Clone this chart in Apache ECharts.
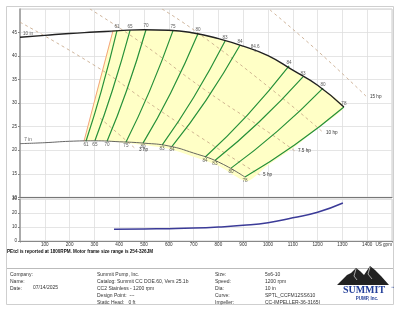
<!DOCTYPE html>
<html><head><meta charset="utf-8">
<script src="https://cdn.jsdelivr.net/npm/echarts@6/dist/echarts.min.js"></script>
<style>html,body{margin:0;padding:0;background:#fff}#c{width:400px;height:309px}</style>
</head><body><div id="c"></div>
<script>
// ---- data ----
const dia10Q = [0,100,200,300,400,500,600,700,800,900,1000,1100,1200,1306];
const dia10H = [44.0,44.4,44.8,45.1,45.4,45.6,45.5,44.9,43.7,42.1,40.1,37.0,33.8,29.2];
const dia7Q = [0,100,200,300,400,500,600,700,800,907];
const dia7H = [21.4,21.6,21.9,22.0,21.8,21.5,20.9,19.4,17.5,14.3];
const effLabels = ['61','65','70','75','80','83','84','84','83','80','78'];
const effQ = [[266,328,391],[302,373,444],[351,430,508],[427,522,617],[496,607,718],[573,700,827],[613,750,887],[746,916,1085],[786,964,1141],[851,1037,1222],[907,1107,1306]];
const effH = [[21.9,32.6,45.4],[22.0,32.8,45.5],[21.9,32.7,45.6],[21.7,32.5,45.4],[21.5,32.1,44.8],[21.1,31.2,43.2],[20.8,30.6,42.3],[18.5,27.4,37.9],[17.8,26.0,35.6],[16.2,24.0,33.2],[14.3,21.1,29.2]];
const bestEffQ = 948, bestEffH = 41.2, bestEffLabel = '84.6';
const minFlowQ = [375,258];
const minFlowH = [45.4,21.9];
// preferred region lower/right edge (below 7 in curve and right of 78 line)
const regionEdgeQ = [1306,1200,1100,1000,915,800,700,600,500,400,300,258];
const regionEdgeH = [29.2,24.6,20.4,16.8,13.4,16.7,18.6,20.3,21.1,21.7,22.0,21.9];
const hpLabels = ['3 hp','5 hp','7.5 hp','10 hp','15 hp'];
const hpQ = [[323,403,468],[0,310,504,726,968],[282,484,746,1008,1109],[573,718,1008,1222],[1008,1202,1399]];
const hpH = [[26.8,23.2,20.2],[47.2,37.7,30.6,22.8,14.7],[50.0,43.0,32.8,23.6,19.8],[50.0,44.9,33.2,23.8],[49.8,41.0,31.3]];
const npshQ = [379,500,600,700,800,900,1000,1100,1200,1302];
const npshH = [8.4,8.6,8.8,9.2,10.0,11.2,13.1,16.6,20.5,27.1];
const xTicks = [0,1500,100];
const headTicks = [10,50,5];
const npshTicks = [0,30,10];

const zip = (a,b)=>a.map((v,i)=>[v,b[i]]);
const chart = echarts.init(document.getElementById('c'), null, {renderer:'canvas'});

function regionPts(){
  const pts = [[minFlowQ[0],minFlowH[0]]];
  dia10Q.forEach((q,i)=>{ if(q>minFlowQ[0] && q<regionEdgeQ[0]) pts.push([q,dia10H[i]]); });
  regionEdgeQ.forEach((q,i)=>pts.push([q,regionEdgeH[i]]));
  pts.push([minFlowQ[1],minFlowH[1]]);
  return pts;
}
const region = regionPts();

const FS = 4.6;
const series = [];
series.push({type:'custom', xAxisIndex:0, yAxisIndex:0, clip:true, silent:true, z:1,
  data:[[0,0]],
  renderItem:(params, api)=>({type:'polygon', shape:{points: region.map(p=>api.coord(p)), smooth:0.2},
     style:{fill:'#ffffc6', stroke:'#ffffc6', lineWidth:0}})
});
hpQ.forEach((qs,i)=>{
  series.push({type:'line', xAxisIndex:0, yAxisIndex:0, smooth:true, symbol:'none', z:2, silent:true,
    data: zip(qs,hpH[i]), lineStyle:{color:'#c4a384', width:0.8, type:[3,3]},
    endLabel:{show:true, formatter:hpLabels[i], fontSize:FS, color:'#333', distance:3}});
});
series.push({type:'line', xAxisIndex:0, yAxisIndex:0, symbol:'none', z:3, data: zip(minFlowQ,minFlowH),
  lineStyle:{color:'#f08a6a', width:0.8}});
effQ.forEach((qs,i)=>{
  series.push({type:'line', xAxisIndex:0, yAxisIndex:0, smooth:true, symbol:'none', z:4,
    data: zip(qs,effH[i]), lineStyle:{color:'#27913a', width:1.2}});
});
series.push({type:'line', xAxisIndex:0, yAxisIndex:0, smooth:true, symbol:'none', z:5,
  data: zip(dia10Q,dia10H), lineStyle:{color:'#222', width:1.4}});
series.push({type:'line', xAxisIndex:0, yAxisIndex:0, smooth:true, symbol:'none', z:5,
  data: zip(dia7Q,dia7H), lineStyle:{color:'#555', width:0.9}});
const topLab = [], botLab = [];
effQ.forEach((qs,i)=>{ botLab.push({value:[qs[0],effH[i][0]], name:effLabels[i]}); topLab.push({value:[qs[qs.length-1],effH[i][qs.length-1]], name:effLabels[i]}); });
topLab.push({value:[bestEffQ,bestEffH], name:bestEffLabel});
series.push({type:'scatter', xAxisIndex:0, yAxisIndex:0, z:6, symbol:'rect', symbolSize:[0.6,3], itemStyle:{color:'#444'},
  data:[[bestEffQ,bestEffH]], silent:true});
series.push({type:'scatter', xAxisIndex:0, yAxisIndex:0, z:6, symbolSize:0, data:topLab,
  label:{show:true, position:'top', distance:1, formatter:p=>p.name, fontSize:FS, color:'#333'}});
series.push({type:'scatter', xAxisIndex:0, yAxisIndex:0, z:6, symbolSize:0, data:botLab,
  label:{show:true, position:'bottom', distance:1, formatter:p=>p.name, fontSize:FS, color:'#333'}});
series.push({type:'scatter', xAxisIndex:0, yAxisIndex:0, z:6, symbolSize:0,
  data:[{value:[dia10Q[0],dia10H[0]],name:'10 in'},{value:[dia7Q[0],dia7H[0]],name:'7 in'}],
  label:{show:true, position:'top', distance:1, offset:[8,0], formatter:p=>p.name, fontSize:FS, color:'#333'}});
series.push({type:'line', xAxisIndex:1, yAxisIndex:1, smooth:true, symbol:'none',
  data: zip(npshQ,npshH), lineStyle:{color:'#3b3b98', width:1.5}});

const axisLbl = {fontSize:FS, color:'#333', margin:3};
const option = {
  animation:false,
  grid:[{left:20,right:8,top:9,height:188.3, show:true, borderColor:'#ccc', borderWidth:1, outerBoundsMode:'none', containLabel:false},
        {left:20,right:8,top:199,height:42, show:true, borderColor:'#ccc', borderWidth:1, outerBoundsMode:'none', containLabel:false}],
  xAxis:[
    {gridIndex:0,type:'value',min:xTicks[0],max:xTicks[1],interval:xTicks[2],
     axisLabel:{show:false},axisTick:{show:false},axisLine:{show:true,lineStyle:{color:'#777',width:1}},
     splitLine:{show:true,lineStyle:{color:'#dedede',width:0.8}}},
    {gridIndex:1,type:'value',min:xTicks[0],max:xTicks[1],interval:xTicks[2],
     axisLabel:Object.assign({},axisLbl,{margin:1,formatter:v=>v===0?'':(v===1500?'US gpm':String(v)), alignMaxLabel:'right'}),
     axisTick:{show:true,length:1.5,lineStyle:{color:'#888'}},axisLine:{show:true,lineStyle:{color:'#888',width:1}},
     splitLine:{show:true,lineStyle:{color:'#dedede',width:0.8}}}
  ],
  yAxis:[
    {gridIndex:0,type:'value',min:headTicks[0],max:headTicks[1],interval:headTicks[2],
     name:'Head - ft',nameLocation:'middle',nameGap:9,nameTextStyle:{fontSize:FS,fontWeight:'bold',color:'#333'},
     axisLabel:Object.assign({showMaxLabel:false},axisLbl),axisTick:{show:true,length:2,lineStyle:{color:'#888'}},
     axisLine:{show:true,lineStyle:{color:'#999',width:1.5}},
     splitLine:{show:true,lineStyle:{color:'#dedede',width:0.8}}},
    {gridIndex:1,type:'value',min:npshTicks[0],max:npshTicks[1],interval:npshTicks[2],
     name:'NPSHr - ft',nameLocation:'middle',nameGap:9,nameTextStyle:{fontSize:FS,fontWeight:'bold',color:'#333'},
     axisLabel:axisLbl,axisTick:{show:true,length:2,lineStyle:{color:'#888'}},
     axisLine:{show:true,lineStyle:{color:'#999',width:1.5}},
     splitLine:{show:true,lineStyle:{color:'#dedede',width:0.8}}}
  ],
  series,
  graphic:[
    {type:'rect', shape:{x:6.5,y:6.5,width:387,height:298}, style:{fill:'none',stroke:'#cfcfcf',lineWidth:1}, z:-1},
    {type:'line', shape:{x1:7,y1:268.5,x2:393,y2:268.5}, style:{stroke:'#bbb',lineWidth:1}},
    {type:'text', x:7, y:249, style:{text:'PEtcl is reported at 1800RPM. Motor frame size range is 254-326JM', fontSize:4.6, fontWeight:'bold', fill:'#111'}},
    {type:'text', x:10, y:271, style:{text:'Company:\nName:\nDate:', fontSize:5, lineHeight:7, fill:'#333'}},
    {type:'text', x:33, y:285, style:{text:'07/14/2025', fontSize:5, fill:'#333'}},
    {type:'text', x:97, y:271, style:{text:'Summit Pump, Inc.\nCatalog: Summit CC DOE.60, Vers 25.1b\nCC2 Stainless - 1200 rpm\nDesign Point:  ---\nStatic Head:   0 ft', fontSize:5, lineHeight:7, fill:'#333'}},
    {type:'text', x:215, y:271, style:{text:'Size:\nSpeed:\nDia:\nCurve:\nImpeller:', fontSize:5, lineHeight:7, fill:'#333'}},
    {type:'text', x:265, y:271, style:{text:'5x6-10\n1200 rpm\n10 in\nSPTL_CCFM12SS610\nCC-IMPELLER-36-3165I', fontSize:5, lineHeight:7, fill:'#333'}},
    {type:'polygon', shape:{points:[[337,285],[347,275],[351,273],[356,268],[360,271],[364,275],[370,266],[375,270],[381,276],[389,285]]}, style:{fill:'#222'}},
    {type:'polyline', shape:{points:[[356,269],[354,276],[357,280]]}, style:{stroke:'#fff',lineWidth:0.6,fill:'none'}},
    {type:'polyline', shape:{points:[[370,267],[368,274],[372,279]]}, style:{stroke:'#fff',lineWidth:0.6,fill:'none'}},
    {type:'text', x:364, y:290, style:{text:'SUMMIT', fontSize:10, fontWeight:'bold', fontFamily:'Liberation Serif', fill:'#24409a', align:'center', verticalAlign:'middle'}},
    {type:'text', x:391, y:286, style:{text:'™', fontSize:3.5, fill:'#24409a'}},
    {type:'text', x:367, y:298.5, style:{text:'PUMP, Inc.', fontSize:4.5, fontWeight:'bold', fill:'#24409a', align:'center', verticalAlign:'middle'}}
  ]
};
chart.setOption(option);
</script></body></html>
